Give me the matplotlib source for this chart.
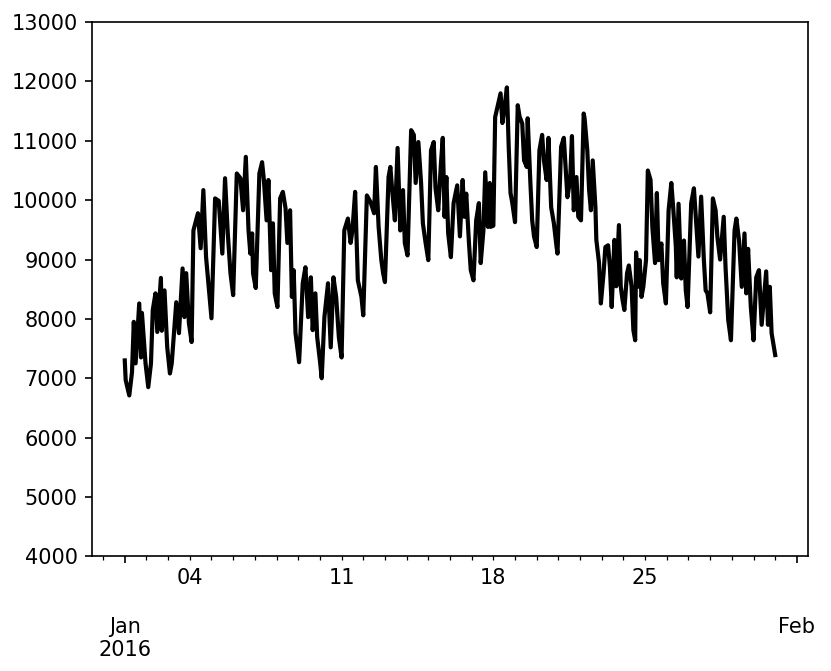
import pandas as pd
import matplotlib
matplotlib.use('Agg')
import matplotlib.pyplot as plt
import matplotlib.dates as mdates
from matplotlib.ticker import FuncFormatter

# hourly load series (hours since 2016-01-01 00:00)
start = '2016-01-01'
hours = [0, 1, 5, 8, 10, 12, 16, 18, 19, 23, 26, 29, 31, 34, 36, 40, 41, 44, 47, 50,
         52, 57, 60, 64, 66, 68, 71, 74, 76, 79, 81, 84, 87, 90, 92, 96, 100, 104, 108, 111,
         114, 117, 120, 124, 128, 131, 134, 137, 139, 141, 142, 145, 149, 152, 154, 157, 159, 162, 164, 166,
         169, 172, 175, 178, 180, 183, 185, 187, 189, 193, 197, 200, 203, 206, 208, 211, 213, 216, 218, 221,
         225, 228, 231, 234, 237, 240, 243, 247, 250, 252, 255, 258, 262, 264, 268, 272, 276, 278, 281, 284,
         286, 288, 292, 294, 296, 299, 302, 305, 308, 310, 313, 317, 320, 322, 325, 328, 330, 333, 336, 339,
         342, 344, 347, 350, 352, 354, 356, 358, 361, 364, 368, 371, 374, 376, 378, 381, 383, 386, 389, 392,
         394, 397, 399, 402, 404, 405, 408, 410, 413, 416, 418, 420, 423, 425, 427, 429, 432, 435, 437, 440,
         442, 445, 446, 449, 451, 453, 456, 459, 462, 464, 467, 469, 472, 475, 478, 479, 483, 486, 488, 490,
         493, 495, 497, 500, 502, 505, 508, 509, 512, 514, 516, 518, 521, 522, 525, 527, 530, 532, 535, 537,
         539, 542, 544, 547, 549, 551, 553, 556, 558, 561, 563, 565, 566, 568, 570, 572, 574, 577, 579, 582,
         584, 587, 589, 591, 594, 596, 599, 602, 605, 607, 610, 611, 613, 616, 619, 621, 623, 627, 630, 632,
         635, 638, 641, 643, 645, 648, 651, 654, 656, 659, 663, 665, 668, 671, 675, 677, 680, 683, 686, 688,
         690, 693, 696, 699, 702, 705, 708, 710, 712, 714, 716, 720]
load = [7300, 6970, 6710, 7100, 7950, 7250, 8260, 7350, 8100, 7250, 6850, 7250, 8150, 8430, 7780, 8690, 7800, 8480, 7520, 7080,
        7250, 8280, 7760, 8850, 8030, 8770, 7930, 7610, 9490, 9660, 9780, 9190, 10170, 9040, 8700, 8010, 10030, 9990, 9100, 10370,
        9450, 8770, 8400, 10450, 10370, 9830, 10730, 9490, 9100, 9440, 8770, 8520, 10450, 10640, 10340, 9660, 10340, 8820, 9610, 8430,
        8200, 10030, 10140, 9860, 9280, 9830, 8370, 8820, 7760, 7270, 8600, 8870, 8030, 8700, 7810, 8430, 7690, 7300, 7000, 8030,
        8600, 7520, 8700, 8370, 7690, 7350, 9490, 9690, 9280, 9490, 10140, 8650, 8370, 8060, 10080, 9970, 9780, 10560, 9550, 8990,
        8770, 8620, 10390, 10560, 10170, 9660, 10880, 9490, 10170, 9280, 9070, 11180, 11100, 10290, 10980, 10290, 9610, 9280, 8990, 10840,
        10980, 10200, 9830, 10620, 11050, 9720, 10390, 9440, 9040, 9950, 10250, 9390, 10340, 9720, 10110, 9280, 8820, 8650, 9660, 9950,
        8940, 9490, 10470, 9550, 10290, 9550, 9570, 11400, 11600, 11800, 11300, 11520, 11900, 10900, 10120, 9950, 9630, 11600, 11410, 11290,
        10670, 10560, 11380, 10290, 9660, 9390, 9210, 10840, 11100, 10670, 10340, 11050, 9880, 9610, 9210, 9100, 10900, 11050, 10560, 10050,
        10340, 11080, 9830, 10390, 9720, 9660, 11460, 11380, 10840, 10170, 9830, 10670, 9880, 9330, 8940, 8260, 8770, 9210, 9240, 8880,
        8200, 9330, 8550, 9580, 8550, 8320, 8150, 8770, 8900, 8550, 7810, 7640, 9120, 8540, 8990, 8370, 8540, 8990, 10500, 10340,
        9550, 8940, 10120, 8990, 9270, 8600, 8260, 9830, 10290, 9890, 9220, 8700, 9940, 8680, 9320, 8480, 8200, 9950, 10200, 9730,
        9050, 10060, 9000, 8480, 8430, 8110, 10030, 9830, 9380, 9000, 9720, 8880, 7980, 7640, 9490, 9690, 9320, 8540, 9440, 8430,
        9180, 8200, 7640, 8700, 8820, 7900, 8430, 8800, 7900, 8540, 7760, 7390]

y_ticks = list(range(4000, 13001, 1000))

times = pd.Timestamp(start) + pd.to_timedelta(hours, unit='h')


def month_label(x, pos):
    d = mdates.num2date(x)
    if d.month == 1:
        return d.strftime('\n\n%b\n%Y')
    return d.strftime('\n\n%b')


def day_label(x, pos):
    # only Mondays get a label, like pandas' daily finder
    d = mdates.num2date(x)
    if d.weekday() == 0:
        return d.strftime('%d')
    return ''


fig = plt.figure(figsize=(831 / 150, 671 / 150), dpi=150)
ax = fig.add_axes([0.111, 0.171, 0.861, 0.796])
ax.plot(times, load, color='black', linewidth=2.0, solid_joinstyle='round')

ax.set_ylim(4000, 13000)
ax.set_yticks(y_ticks)

ax.xaxis.set_major_locator(mdates.MonthLocator())
ax.xaxis.set_major_formatter(FuncFormatter(month_label))
ax.xaxis.set_minor_locator(mdates.DayLocator())
ax.xaxis.set_minor_formatter(FuncFormatter(day_label))

fig.savefig('out.png', dpi=150)
